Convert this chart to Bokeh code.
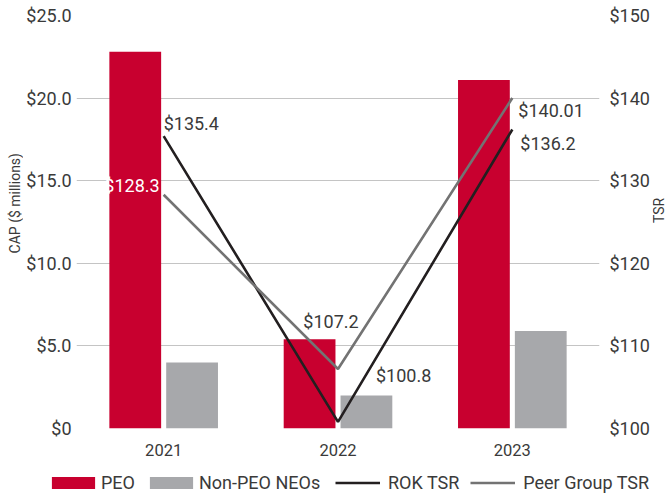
import math
from bokeh.plotting import figure
from bokeh.layouts import column, row
from bokeh.models import (ColumnDataSource, Range1d, LinearAxis, FactorRange, Legend,
                          LegendItem, LabelSet, Label, FixedTicker)
from bokeh.core.properties import value
from bokeh.transform import dodge
from bokeh.embed import file_html
from bokeh.resources import INLINE

years = ["2021", "2022", "2023"]
peo_cap = [22.8, 5.4, 21.1]
non_peo_cap = [4.0, 2.0, 5.9]
rok_tsr = [135.4, 100.8, 136.2]
peer_tsr = [128.3, 107.2, 140.01]
rok_labels = ["$135.4", "$100.8", "$136.2"]
peer_labels = ["$128.3", "$107.2", "$140.01"]
left_ticks = [0, 5, 10, 15, 20, 25]
left_tick_labels = ["$0", "$5.0", "$10.0", "$15.0", "$20.0", "$25.0"]
right_ticks = [100, 110, 120, 130, 140, 150]
right_tick_labels = ["$100", "$110", "$120", "$130", "$140", "$150"]

RED = "#C8002F"
GRAY = "#A7A8AB"
ROK = "#231F20"
PEER = "#737373"
TXT = "#3a3a3a"
FONT = "Roboto"
H = 462
CAP_W = 23
TSR_W = 14

src = ColumnDataSource(dict(years=years, peo=peo_cap, non=non_peo_cap,
                            rok=rok_tsr, peer=peer_tsr))

p = figure(x_range=FactorRange(*years, range_padding=0), y_range=Range1d(0, 25),
           width=666 - CAP_W - TSR_W, height=H, output_backend="svg", toolbar_location=None,
           min_border_left=52, min_border_right=52, min_border_top=15, min_border_bottom=34)
p.outline_line_color = None
p.extra_y_ranges = {"tsr": Range1d(100, 150)}

p.vbar(x=dodge("years", -0.163, range=p.x_range), top="peo", width=0.297,
       source=src, color=RED, line_color=None)
p.vbar(x=dodge("years", 0.163, range=p.x_range), top="non", width=0.297,
       source=src, color=GRAY, line_color=None)
p.line(x="years", y="rok", source=src, y_range_name="tsr", color=ROK, line_width=2.6)
p.line(x="years", y="peer", source=src, y_range_name="tsr", color=PEER, line_width=2.6)

# data labels (offsets in screen pixels)
rok_src = ColumnDataSource(dict(x=years, y=rok_tsr, t=rok_labels,
                                xo=[0, 38, 8], yo=[13, 46, -14], al=["left", "left", "left"]))
peer_src = ColumnDataSource(dict(x=years, y=peer_tsr, t=peer_labels,
                                 xo=[-4, -7, 6], yo=[9, 48, -12], al=["right", "center", "left"],
                                 c=["white", TXT, TXT]))
p.add_layout(LabelSet(x="x", y="y", text="t", source=rok_src, y_range_name="tsr",
                      x_offset="xo", y_offset="yo", text_align="al", text_baseline="middle",
                      text_font=value(FONT), text_font_size=value("18px"), text_color=TXT))
p.add_layout(LabelSet(x="x", y="y", text="t", source=peer_src, y_range_name="tsr",
                      x_offset="xo", y_offset="yo", text_align="al", text_baseline="middle",
                      text_font=value(FONT), text_font_size=value("18px"), text_color="c"))

# axes
p.yaxis.ticker = FixedTicker(ticks=left_ticks)
p.yaxis.major_label_overrides = {t: l for t, l in zip(left_ticks, left_tick_labels)}
right = LinearAxis(y_range_name="tsr", ticker=FixedTicker(ticks=right_ticks))
right.major_label_overrides = {t: l for t, l in zip(right_ticks, right_tick_labels)}
p.add_layout(right, "right")

for ax in [p.yaxis[0], right, p.xaxis[0]]:
    ax.axis_line_color = None
    ax.major_tick_line_color = None
    ax.minor_tick_line_color = None
    ax.major_tick_out = 0
    ax.major_tick_in = 0
    ax.minor_tick_out = 0
    ax.minor_tick_in = 0
    ax.major_label_text_font = FONT
    ax.major_label_text_color = TXT
for ax in [p.yaxis[0], right]:
    ax.major_label_text_font_size = "18px"
p.yaxis[0].major_label_standoff = 5
right.major_label_standoff = 10
p.xaxis.major_label_text_font_size = "16.5px"
p.xaxis.major_label_standoff = 15

p.xgrid.grid_line_color = None
p.ygrid.grid_line_color = "#c4c4c4"
p.ygrid.grid_line_width = 1.2


def strip(width, height):
    f = figure(width=width, height=height, output_backend="svg", toolbar_location=None,
               min_border=0, x_axis_type=None, y_axis_type=None,
               x_range=Range1d(0, width), y_range=Range1d(0, height))
    f.grid.visible = False
    f.outline_line_color = None
    return f


# axis titles in narrow strips beside the chart
cap_fig = strip(CAP_W, H)
cap_fig.add_layout(Label(x=14, y=H - 210, text="CAP ($ millions)", angle=math.pi / 2,
                         text_align="center", text_baseline="middle", text_font=FONT,
                         text_font_size="14px", text_color=TXT))
tsr_fig = strip(TSR_W, H)
tsr_fig.add_layout(Label(x=6, y=H - 218, text="TSR", angle=math.pi / 2,
                         text_align="center", text_baseline="middle", text_font=FONT,
                         text_font_size="14px", text_color=TXT))

# legend strip below the chart; swatch renderers share the real data, but the bars
# have zero width and the lines lie far outside the strip's visible range
lf = figure(width=666, height=36, output_backend="svg", toolbar_location=None,
            min_border=0, x_axis_type=None, y_axis_type=None,
            x_range=FactorRange(*years), y_range=Range1d(-10000, -9999))
lf.grid.visible = False
lf.outline_line_color = None
lf.extra_y_ranges = {"tsr": Range1d(-10000, -9999)}
g1 = lf.vbar(x="years", top="peo", width=0, source=src, color=RED, line_color=None)
g2 = lf.vbar(x="years", top="non", width=0, source=src, color=GRAY, line_color=None)
g3 = lf.line(x="years", y="rok", source=src, y_range_name="tsr", color=ROK, line_width=2.6)
g4 = lf.line(x="years", y="peer", source=src, y_range_name="tsr", color=PEER, line_width=2.6)

common = dict(orientation="horizontal", padding=0, margin=0, border_line_color=None,
              background_fill_alpha=0, label_text_font=FONT, label_text_font_size="18px",
              label_text_color=TXT)
bar_legend = Legend(items=[LegendItem(label="PEO", renderers=[g1]),
                           LegendItem(label="Non-PEO NEOs", renderers=[g2])],
                    location=(46, 5), glyph_width=54, glyph_height=15,
                    label_standoff=1, spacing=9, **common)
line_legend = Legend(items=[LegendItem(label="ROK TSR", renderers=[g3]),
                            LegendItem(label="Peer Group TSR", renderers=[g4])],
                     location=(335, 5), glyph_width=45, glyph_height=15,
                     label_standoff=8, spacing=11, **common)
lf.add_layout(bar_legend, "center")
lf.add_layout(line_legend, "center")

layout = column(row(cap_fig, p, tsr_fig, spacing=0), lf, spacing=0)
open("out.html", "w").write(file_html(layout, INLINE))
